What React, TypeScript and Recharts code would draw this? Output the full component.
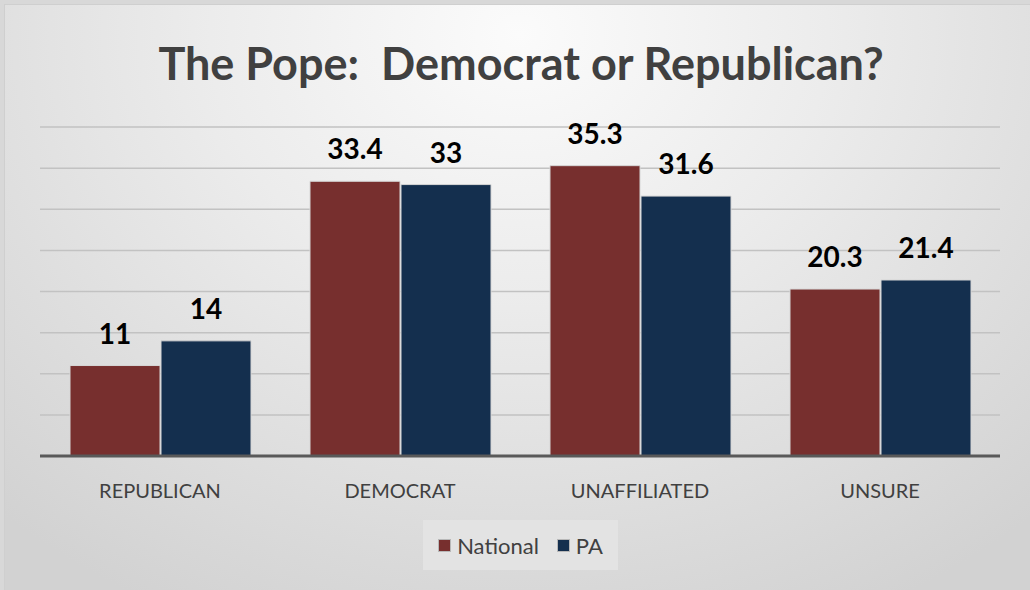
import React from "react";
import { BarChart, Bar, XAxis, YAxis, CartesianGrid, LabelList, Legend } from "recharts";

const categories = ["REPUBLICAN", "DEMOCRAT", "UNAFFILIATED", "UNSURE"];
const nationalValues = [11, 33.4, 35.3, 20.3];
const paValues = [14, 33, 31.6, 21.4];
const yTicks = [0, 5, 10, 15, 20, 25, 30, 35, 40];

const seriesInfo = [
  { key: "National", color: "#772F2E" },
  { key: "PA", color: "#142F4E" },
];

const data = categories.map((name, i) => ({
  name,
  National: nationalValues[i],
  PA: paValues[i],
}));

const FONT = "Lato, 'Open Sans', sans-serif";

function LegendBox() {
  return (
    <div
      style={{
        width: 195,
        height: 50,
        background: "#e3e3e3",
        display: "flex",
        alignItems: "center",
        justifyContent: "center",
        fontFamily: FONT,
        fontSize: 22,
        color: "#404040",
      }}
    >
      {seriesInfo.map((s, i) => (
        <div key={s.key} style={{ display: "flex", alignItems: "center", marginLeft: i === 0 ? 0 : 18 }}>
          <span
            style={{
              display: "inline-block",
              width: 11,
              height: 11,
              background: s.color,
              border: "1px solid #b8b8b8",
              marginRight: 6,
            }}
          />
          <span>{s.key}</span>
        </div>
      ))}
    </div>
  );
}

export default function App() {
  return (
    <div
      style={{
        position: "absolute",
        left: 0,
        top: 0,
        width: 1030,
        height: 590,
        background: "#d8d8d8",
      }}
    >
      <div
        style={{
          position: "absolute",
          left: 4,
          top: 4,
          width: 1030,
          height: 590,
          boxSizing: "border-box",
          border: "1px solid #cfcfcf",
          background:
            "radial-gradient(ellipse 75% 110% at 50% 5%, #fbfbfb 0%, #ececec 40%, #d2d2d2 100%)",
        }}
      />
      <div
        style={{
          position: "absolute",
          left: 0,
          top: 36,
          width: 1042,
          textAlign: "center",
          fontFamily: FONT,
          fontWeight: 700,
          fontSize: 45,
          color: "#404040",
          whiteSpace: "pre",
        }}
      >
        {"The Pope:  Democrat or Republican?"}
      </div>
      <div style={{ position: "absolute", left: 0, top: 0 }}>
        <BarChart
          width={1030}
          height={590}
          data={data}
          margin={{ top: 127, right: 30, bottom: 54, left: 40 }}
          barCategoryGap="12.5%"
          barGap={1}
        >
          <CartesianGrid vertical={false} stroke="#c2c2c2" strokeWidth={1.5} />
          <YAxis hide domain={[0, 40]} ticks={yTicks} />
          <XAxis
            dataKey="name"
            axisLine={{ stroke: "#595959", strokeWidth: 3 }}
            tickLine={false}
            tickMargin={22}
            tick={{ fill: "#404040", fontSize: 20, fontFamily: FONT }}
          />
          <Legend
            content={() => <LegendBox />}
            wrapperStyle={{ position: "absolute", left: 423, top: 520, width: 195, height: 50 }}
          />
          {seriesInfo.map((s) => (
            <Bar
              key={s.key}
              dataKey={s.key}
              fill={s.color}
              stroke="#d6d6d6"
              strokeWidth={1}
              isAnimationActive={false}
            >
              <LabelList
                dataKey={s.key}
                position="top"
                offset={22}
                style={{ fill: "#000", fontSize: 28, fontWeight: 700, fontFamily: FONT }}
              />
            </Bar>
          ))}
        </BarChart>
      </div>
    </div>
  );
}
